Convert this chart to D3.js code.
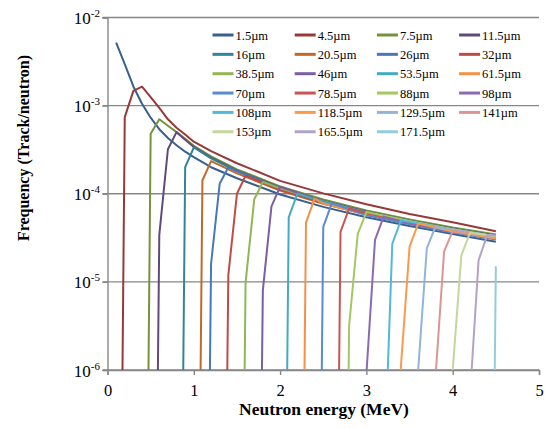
<!DOCTYPE html>
<html>
<head>
<meta charset="utf-8">
<script src="https://cdn.jsdelivr.net/npm/d3@7"></script>
<style>
  body { margin: 0; background: #fff; }
  svg text { font-family: "Liberation Serif", "Times New Roman", serif; fill: #000; }
</style>
</head>
<body>
<svg id="chart" width="545" height="428"></svg>
<script>
// sample thickness of each series
const thickness = ['1.5µm', '4.5µm', '7.5µm', '11.5µm', '16µm', '20.5µm', '26µm', '32µm',
  '38.5µm', '46µm', '53.5µm', '61.5µm', '70µm', '78.5µm', '88µm', '98µm',
  '108µm', '118.5µm', '129.5µm', '141µm', '153µm', '165.5µm', '171.5µm']

const colors = ['#3a5f8e', '#973a37', '#76923c', '#5f4a7a', '#31859b', '#c0692a', '#4877ba', '#bf4a47',
  '#93b652', '#7b5fa0', '#46a9c4', '#f1914a', '#5a8ad0', '#cb5452', '#a2c862', '#8a6ab0',
  '#4fbbd8', '#fa9a4c', '#95b3d7', '#d99694', '#c3d69b', '#b3a2c7', '#93cddd']

const xTicks = [0, 1, 2, 3, 4, 5]
const yTicks = [1e-6, 1e-5, 1e-4, 1e-3, 1e-2]

// [neutron energy MeV, frequency track/neutron]; 0 = no tracks (below threshold)
const tracks = [
  [[0.1,5.2e-3],[0.2,2.95e-3],[0.3,1.65e-3],[0.4,1.05e-3],[0.5,7.3e-4],[0.6,5.4e-4],[0.7,4.3e-4],[0.8,3.55e-4],[0.9,3.0e-4],[1.0,2.6e-4],[1.2,2.0e-4],[1.5,1.5e-4],[2.0,9.8e-5],[2.5,7.1e-5],[3.0,5.4e-5],[3.5,4.3e-5],[4.0,3.5e-5],[4.5,2.85e-5]],
  [[0.1,0],[0.2,7.4e-4],[0.3,1.47e-3],[0.4,1.64e-3],[0.5,1.25e-3],[0.6,9.4e-4],[0.7,7.0e-4],[0.8,5.6e-4],[0.9,4.7e-4],[1.0,3.9e-4],[1.2,3.05e-4],[1.5,2.22e-4],[2.0,1.4e-4],[2.5,1.01e-4],[3.0,7.6e-5],[3.5,5.9e-5],[4.0,4.75e-5],[4.5,3.75e-5]],
  [[0.4,0],[0.5,4.8e-4],[0.6,7.0e-4],[0.7,5.9e-4],[0.8,5.0e-4],[0.9,4.2e-4],[1.0,3.5e-4],[1.2,2.65e-4],[1.5,1.89e-4],[2.0,1.21e-4],[2.5,8.6e-5],[3.0,6.45e-5],[3.5,5.1e-5],[4.0,4.13e-5],[4.5,3.44e-5]],
  [[0.5,0],[0.6,3.4e-5],[0.7,3.2e-4],[0.8,5.0e-4],[0.9,4.1e-4],[1.0,3.4e-4],[1.2,2.57e-4],[1.5,1.83e-4],[2.0,1.17e-4],[2.5,8.3e-5],[3.0,6.25e-5],[3.5,4.95e-5],[4.0,4.0e-5],[4.5,3.34e-5]],
  [[0.8,0],[0.9,2.0e-4],[1.0,3.35e-4],[1.2,2.52e-4],[1.5,1.8e-4],[2.0,1.15e-4],[2.5,8.2e-5],[3.0,6.1e-5],[3.5,4.85e-5],[4.0,3.92e-5],[4.5,3.27e-5]],
  [[1.0,0],[1.1,1.42e-4],[1.2,2.35e-4],[1.5,1.7e-4],[2.0,1.09e-4],[2.5,7.7e-5],[3.0,5.8e-5],[3.5,4.6e-5],[4.0,3.72e-5],[4.5,3.1e-5]],
  [[1.1,0],[1.2,1.6e-5],[1.3,1.3e-4],[1.4,2.0e-4],[1.5,1.81e-4],[2.0,1.16e-4],[2.5,8.25e-5],[3.0,6.2e-5],[3.5,4.9e-5],[4.0,3.96e-5],[4.5,3.3e-5]],
  [[1.3,0],[1.4,1.19e-5],[1.5,1.0e-4],[1.6,1.6e-4],[2.0,1.11e-4],[2.5,7.9e-5],[3.0,5.95e-5],[3.5,4.7e-5],[4.0,3.8e-5],[4.5,3.16e-5]],
  [[1.5,0],[1.6,9.8e-6],[1.7,8.6e-5],[1.8,1.36e-4],[2.0,1.15e-4],[2.5,8.2e-5],[3.0,6.1e-5],[3.5,4.85e-5],[4.0,3.92e-5],[4.5,3.27e-5]],
  [[1.7,0],[1.8,8.0e-6],[1.9,7.2e-5],[2.0,1.2e-4],[2.5,8.1e-5],[3.0,6.05e-5],[3.5,4.8e-5],[4.0,3.88e-5],[4.5,3.23e-5]],
  [[2.0,0],[2.1,5.4e-5],[2.2,1.0e-4],[2.5,8.1e-5],[3.0,6.05e-5],[3.5,4.8e-5],[4.0,3.88e-5],[4.5,3.23e-5]],
  [[2.2,0],[2.3,4.7e-5],[2.4,8.8e-5],[2.5,7.75e-5],[3.0,5.8e-5],[3.5,4.6e-5],[4.0,3.72e-5],[4.5,3.1e-5]],
  [[2.4,0],[2.5,4.2e-5],[2.6,7.8e-5],[3.0,5.7e-5],[3.5,4.5e-5],[4.0,3.63e-5],[4.5,3.03e-5]],
  [[2.6,0],[2.7,3.7e-5],[2.8,6.8e-5],[3.0,6.0e-5],[3.5,4.75e-5],[4.0,3.84e-5],[4.5,3.2e-5]],
  [[2.7,0],[2.8,3.2e-6],[2.9,3.5e-5],[3.0,6.2e-5],[3.5,4.9e-5],[4.0,3.96e-5],[4.5,3.3e-5]],
  [[2.9,0],[3.0,9e-7],[3.1,3.0e-5],[3.2,5.5e-5],[3.5,4.6e-5],[4.0,3.72e-5],[4.5,3.1e-5]],
  [[3.1,0],[3.2,5e-8],[3.3,2.7e-5],[3.4,5.0e-5],[3.5,4.8e-5],[4.0,3.88e-5],[4.5,3.23e-5]],
  [[3.3,0],[3.4,1.1e-6],[3.5,2.5e-5],[3.6,4.6e-5],[4.0,3.72e-5],[4.5,3.1e-5]],
  [[3.5,0],[3.6,1e-6],[3.7,2.4e-5],[3.8,4.2e-5],[4.0,3.92e-5],[4.5,3.27e-5]],
  [[3.7,0],[3.8,8e-7],[3.9,2.2e-5],[4.0,3.8e-5],[4.5,3.2e-5]],
  [[3.9,0],[4.0,1e-6],[4.1,2.0e-5],[4.2,3.6e-5],[4.5,3.3e-5]],
  [[4.1,0],[4.2,5e-7],[4.3,1.76e-5],[4.4,3.4e-5],[4.5,3.36e-5]],
  [[4.4,0],[4.5,1.5e-5]]
]

const FLOOR = 1e-14  // zero counts drawn far below the axis, clipped away

const svg = d3.select('#chart')
const plotLeft = 107.5, plotRight = 539, plotTop = 17.5, plotBottom = 370

const x = d3.scaleLinear().domain([0, 5]).range([plotLeft, plotRight])
const y = d3.scaleLog().domain([1e-6, 1e-2]).range([plotBottom, plotTop])

// horizontal gridlines
svg.append('g')
  .selectAll('line')
  .data(yTicks)
  .enter()
  .append('line')
  .attr('x1', plotLeft - 5)
  .attr('x2', plotRight)
  .attr('y1', d => y(d))
  .attr('y2', d => y(d))
  .attr('stroke', '#878787')
  .attr('stroke-width', 1.4)

// y axis
const yAxis = d3.axisLeft(y).tickValues(yTicks).tickSize(5).tickFormat('')
svg.append('g')
  .attr('transform', 'translate(' + plotLeft + ',0)')
  .call(yAxis)
  .call(g => g.select('.domain').attr('stroke', '#878787').attr('stroke-width', 1.4))
  .call(g => g.selectAll('.tick line').attr('stroke', '#878787').attr('stroke-width', 1.4))

const yLab = svg.append('g')
  .selectAll('text')
  .data(yTicks)
  .enter()
  .append('text')
  .attr('x', 100)
  .attr('y', d => y(d) + 6.5)
  .attr('text-anchor', 'end')
  .style('font-size', '17px')
yLab.append('tspan').text('10')
yLab.append('tspan')
  .attr('dy', -7)
  .style('font-size', '11px')
  .text(d => '-' + Math.round(-Math.log10(d)))

// x axis
const xAxis = d3.axisBottom(x).tickValues(xTicks).tickSize(5).tickFormat(d3.format('d'))
svg.append('g')
  .attr('transform', 'translate(0,' + plotBottom + ')')
  .call(xAxis)
  .call(g => g.select('.domain').attr('stroke', '#878787').attr('stroke-width', 1.4))
  .call(g => g.selectAll('.tick line').attr('stroke', '#878787').attr('stroke-width', 1.4))
  .call(g => g.selectAll('.tick text')
    .attr('y', 13.8)
    .style('font-family', '"Liberation Serif", serif')
    .style('font-size', '16.5px')
    .attr('fill', '#000'))

// axis titles
svg.append('text')
  .attr('x', 324)
  .attr('y', 415)
  .attr('text-anchor', 'middle')
  .style('font-size', '17.5px')
  .style('font-weight', 'bold')
  .text('Neutron energy (MeV)')

svg.append('text')
  .attr('transform', 'translate(29,148) rotate(-90)')
  .attr('text-anchor', 'middle')
  .style('font-size', '16px')
  .style('font-weight', 'bold')
  .text('Frequency (Track/neutron)')

// series
svg.append('clipPath')
  .attr('id', 'plot-clip')
  .append('rect')
  .attr('x', plotLeft)
  .attr('y', plotTop)
  .attr('width', plotRight - plotLeft + 2)
  .attr('height', plotBottom - plotTop)

const line = d3.line()
  .x(d => x(d[0]))
  .y(d => y(Math.max(d[1], FLOOR)))

svg.append('g')
  .attr('clip-path', 'url(#plot-clip)')
  .selectAll('path')
  .data(tracks)
  .enter()
  .append('path')
  .attr('d', d => line(d))
  .attr('fill', 'none')
  .attr('stroke', (d, i) => colors[i])
  .attr('stroke-width', 2)
  .attr('stroke-linejoin', 'round')

// legend
const legend = svg.append('g')
  .selectAll('g')
  .data(thickness)
  .enter()
  .append('g')
  .attr('transform', (d, i) => 'translate(' + (212.5 + (i % 4) * 82.2) + ',' + (35 + Math.floor(i / 4) * 19.35) + ')')

legend.append('line')
  .attr('x1', 0)
  .attr('x2', 21)
  .attr('stroke', (d, i) => colors[i])
  .attr('stroke-width', 3)

legend.append('text')
  .attr('x', 23)
  .attr('y', 4.5)
  .style('font-size', '12.5px')
  .text(d => d)
</script>
</body>
</html>
